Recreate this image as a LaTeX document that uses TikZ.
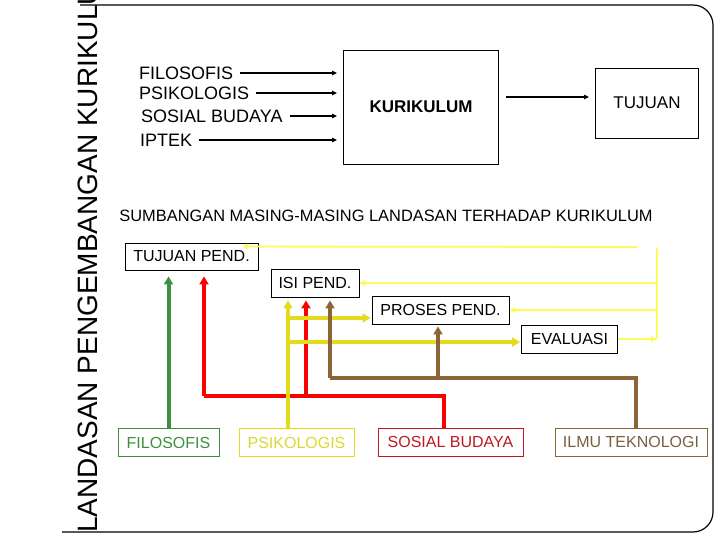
\documentclass[tikz,border=0pt]{standalone}
\usepackage{fontspec}
\setmainfont{Liberation Sans}
\usetikzlibrary{arrows.meta,positioning,calc}
\definecolor{cgreen}{RGB}{60,145,60}
\definecolor{cyel}{RGB}{228,218,30}
\definecolor{cyeltxt}{RGB}{222,214,50}
\definecolor{cred}{RGB}{250,0,0}
\definecolor{credtxt}{RGB}{190,25,35}
\definecolor{cbrown}{RGB}{140,100,55}
\definecolor{cbrowntxt}{RGB}{120,95,65}
\definecolor{cfb}{RGB}{255,250,90}
\begin{document}
\begin{tikzpicture}[x=1pt,y=-1pt,
  lbl/.style={inner sep=0pt,anchor=west,font=\fontsize{18}{20}\selectfont},
  arr/.style={-{Triangle[length=5pt,width=4.5pt]},line width=1.3pt,shorten <=7pt,shorten >=6pt},
  box/.style={draw,line width=0.9pt,inner sep=0pt,font=\fontsize{16}{18}\selectfont},
  src/.style={draw=#1,line width=0.9pt,inner sep=0pt,minimum height=28,font=\fontsize{16}{18}\selectfont},
  flow/.style={draw=#1,line width=4pt,-{Triangle[length=8pt,width=9pt]}},
  bus/.style={draw=#1,line width=4pt},
  fb/.style={draw=cfb,line width=1.8pt,-{Triangle[length=6pt,width=6pt]}}]
\useasboundingbox (0,0) rectangle (720,540);
% frame and side title
\draw[line width=1.2pt,rounded corners=20pt] (80,5) -- (713,5) -- (713,532) -- (62,532);
\begin{scope}
\clip (0,0) rectangle (720,540);
\node[rotate=90,anchor=base west,inner sep=0pt,font=\fontsize{28}{30}\selectfont] (title) at (97,533) {LANDASAN PENGEMBANGAN KURIKULUM};
\end{scope}
% upper scheme
\node[box,minimum width=155,minimum height=114,font=\fontsize{17}{19}\selectfont\bfseries] (kur) at (421,107) {KURIKULUM};
\node[box,minimum width=103,minimum height=70,font=\fontsize{17}{19}\selectfont] (tuj) at (647,103) {TUJUAN};
\node[lbl] (ufil) at (139,73) {FILOSOFIS};
\node[lbl] (upsi) at (139,93) {PSIKOLOGIS};
\node[lbl] (usos) at (141,116) {SOSIAL BUDAYA};
\node[lbl] (uipt) at (140,140) {IPTEK};
\foreach \n in {ufil,upsi,usos,uipt}
  \draw[arr] (\n.east) -- (\n.east -| kur.west);
\coordinate (tin) at ([yshift=6pt]tuj.west);
\draw[arr] (tin -| kur.east) -- (tin);
% lower scheme
\node[font=\fontsize{16.4}{18}\selectfont] (head) at (386,216) {SUMBANGAN MASING-MASING LANDASAN TERHADAP KURIKULUM};
\node[box,minimum width=133,minimum height=27] (tp) at (191.5,256.5) {TUJUAN PEND.};
\node[box,minimum width=88,minimum height=28] (isi) at (315,283) {ISI PEND.};
\node[box,minimum width=137,minimum height=28] (pro) at (440.5,310) {PROSES PEND.};
\node[box,minimum width=96,minimum height=28] (eva) at (569.5,339) {EVALUASI};
\node[src=cgreen,text=cgreen,minimum width=101] (fil) at (168.5,442.5) {FILOSOFIS};
\node[src=cyel,text=cyeltxt,minimum width=115] (psi) at (296.5,442.5) {PSIKOLOGIS};
\node[src=credtxt,text=credtxt,minimum width=145] (sos) at (450.5,442) {SOSIAL BUDAYA};
\node[src=cbrown,text=cbrowntxt,minimum width=152] (ilm) at (631,442) {ILMU TEKNOLOGI};
% feedback from evaluasi
\coordinate (fbtop) at (657,248);
\coordinate (fbbot) at (657,339);
\coordinate (fbstart) at (637,247);
\draw[fb] (eva.east) -- (fbbot);
\draw[draw=cfb,line width=1.8pt] (fbbot) -- (fbtop);
\draw[fb] (fbtop |- isi.east) -- (isi.east);
\draw[fb] (fbtop |- pro.east) -- (pro.east);
\draw[fb] (fbstart) -- ([xshift=-16pt,yshift=-4pt]tp.north east);
% filosofis
\draw[flow=cgreen,shorten >=6pt] (fil.north) -- (fil.north |- tp.south);
% sosial budaya
\coordinate (rbus) at (204,396);
\coordinate (rbr) at (306,396);
\draw[bus=cred] ([xshift=-6.5pt]sos.north) |- (rbus);
\draw[flow=cred,shorten >=6pt] (rbus) -- (rbus |- tp.south);
\draw[flow=cred,shorten >=3pt] (rbr) -- (rbr |- isi.south);
% psikologis
\coordinate (ybus) at (288,428);
\coordinate (yb1) at (288,318);
\coordinate (yb2) at (288,342);
\draw[flow=cyel,shorten >=3pt] (ybus) -- (ybus |- isi.south);
\draw[flow=cyel,shorten >=1pt] (yb1) -- (yb1 -| pro.west);
\draw[flow=cyel,shorten >=1pt] (yb2) -- (yb2 -| eva.west);
% ilmu teknologi
\coordinate (bbus) at (330,378);
\coordinate (bbr) at (438,378);
\draw[bus=cbrown] ([xshift=5pt]ilm.north) |- (bbus);
\draw[flow=cbrown,shorten >=3pt] (bbus) -- (bbus |- isi.south);
\draw[flow=cbrown,shorten >=2pt] (bbr) -- (bbr |- pro.south);
\end{tikzpicture}
\end{document}
